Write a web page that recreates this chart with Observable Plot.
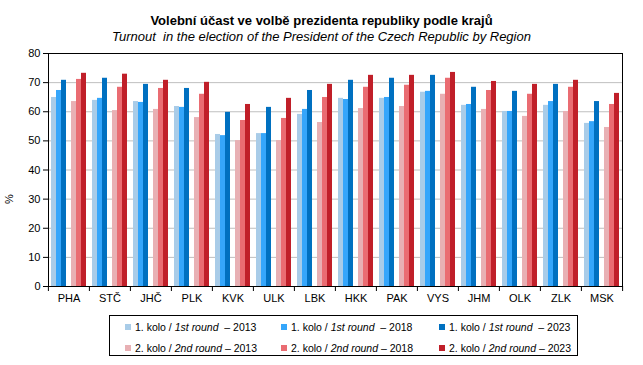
<!DOCTYPE html>
<html><head><meta charset="utf-8">
<script src="https://cdn.jsdelivr.net/npm/d3@7"></script>
<script src="https://cdn.jsdelivr.net/npm/@observablehq/plot@0.6"></script>
<style>
body{margin:0;background:#fff;font-family:"Liberation Sans",Arial,sans-serif;color:#000}
#wrap{position:relative;width:643px;height:365px;overflow:hidden}
#chart{position:absolute;left:0;top:0}
#title{position:absolute;left:0;width:643px;top:13px;text-align:center;font-weight:bold;font-size:13px}
#sub{position:absolute;left:0;width:643px;top:29px;text-align:center;font-style:italic;font-size:13px}
#ylab{position:absolute;left:4px;top:193px;font-size:11px;transform:rotate(-90deg)}
#legend{position:absolute;left:109px;top:315px;width:469px;height:41px;border:1px solid #000;box-sizing:border-box;font-size:10.5px}
.item{position:absolute;white-space:pre;line-height:12px}
.sw{display:inline-block;width:6px;height:6px;margin-right:4px;vertical-align:1px}
</style></head><body>
<div id="wrap">
<div id="chart"></div>
<div id="title">Volební účast ve volbě prezidenta republiky podle krajů</div>
<div id="sub">Turnout&nbsp; in the election of the President of the Czech Republic by Region</div>
<div id="ylab">%</div>
<div id="legend"></div>
</div>
<script>
const regions = ["PHA","STČ","JHČ","PLK","KVK","ULK","LBK","HKK","PAK","VYS","JHM","OLK","ZLK","MSK"];
const round1_2013 = [64.9,63.9,63.5,61.8,52.2,52.5,59.1,64.6,64.6,66.7,62.2,60.1,62.2,56.0];
const round1_2018 = [67.3,64.6,63.2,61.5,51.8,52.5,60.8,64.2,64.9,67.0,62.5,60.1,63.5,56.6];
const round1_2023 = [70.8,71.5,69.4,68.0,59.8,61.5,67.3,70.8,71.5,72.5,68.4,67.0,69.4,63.5];
const round2_2013 = [63.5,60.4,60.8,58.0,50.1,50.1,56.3,61.1,61.8,66.0,60.8,58.4,60.1,54.6];
const round2_2018 = [71.1,68.4,68.0,66.0,57.0,57.7,64.9,68.4,69.1,71.5,67.3,66.0,68.4,62.5];
const round2_2023 = [73.2,72.9,70.8,70.1,62.5,64.6,69.4,72.5,72.5,73.5,70.4,69.4,70.8,66.3];
const seriesKeys = ["r1-2013","r1-2018","r1-2023","r2-2013","r2-2018","r2-2023"];
const seriesValues = [round1_2013,round1_2018,round1_2023,round2_2013,round2_2018,round2_2023];
const seriesColors = ["#a9cce8","#35a6fb","#0070c0","#e8b0b4","#ea6c72","#c01f29"];
const roundLabels = ["1. kolo / ","2. kolo / "];
const roundItalic = ["1st round","2nd round"];
const years = ["2013","2018","2023"];
const slots = ["r1-2013","r1-2018","r1-2023","gap","r2-2013","r2-2018","r2-2023"];

const data = regions.flatMap((r,i)=>seriesKeys.map((k,j)=>({region:r, series:k, value:seriesValues[j][i]})));

const W=643,H=365,mL=46,mR=20,mT=53,mB=79;
const step=(W-mL-mR)/regions.length;

const chart = Plot.plot({
  width:W,height:H,marginTop:mT,marginBottom:mB,marginLeft:mL,marginRight:mR,
  style:{fontFamily:"Liberation Sans, Arial, sans-serif",fontSize:"11px",color:"#000",background:"#fff"},
  fx:{domain:regions,padding:0,label:null},
  x:{domain:slots,padding:0,paddingOuter:0.55,axis:null},
  y:{domain:[0,80],label:null},
  color:{domain:seriesKeys,range:seriesColors},
  marks:[
    Plot.gridY({ticks:d3.range(10,80,10),stroke:"#bfbfbf",strokeOpacity:1}),
    Plot.barY(data,{fx:"region",x:"series",y:"value",fill:"series"}),
    Plot.frame({facet:"super",stroke:"#000"}),
    Plot.axisY({ticks:d3.range(0,81,10),tickSize:5,tickPadding:3,label:null,fontSize:11}),
    Plot.axisFx({anchor:"bottom",tickSize:0,tickPadding:8,label:null,fontSize:11}),
    Plot.axisFx({anchor:"bottom",tickSize:5,tickFormat:null,label:null,dx:-step/2}),
    Plot.axisFx({anchor:"bottom",ticks:[regions[regions.length-1]],tickSize:5,tickFormat:null,label:null,dx:step/2})
  ]
});
document.getElementById("chart").appendChild(chart);

const legend=document.getElementById("legend");
const colLeft=[15,171,329], rowTop=[5,26];
seriesKeys.forEach((k,j)=>{
  const row=Math.floor(j/3), col=j%3;
  const el=document.createElement("div");
  el.className="item";
  el.style.left=colLeft[col]+"px";
  el.style.top=rowTop[row]+"px";
  const sep = row===0 ? "\u00a0\u00a0– " : " – ";
  el.innerHTML=`<span class="sw" style="background:${seriesColors[j]}"></span>${roundLabels[row]}<i>${roundItalic[row]}</i>${sep}${years[col]}`;
  legend.appendChild(el);
});
</script>
</body></html>
